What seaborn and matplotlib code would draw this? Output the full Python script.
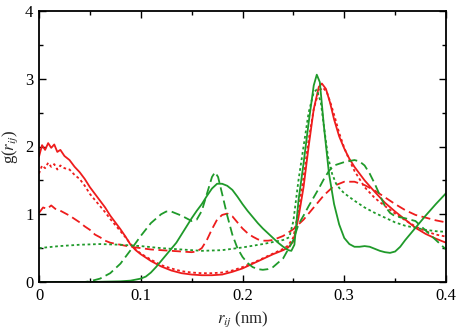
import numpy as np
import pandas as pd
import seaborn as sns
import matplotlib
matplotlib.use("Agg")
import matplotlib.pyplot as plt
from matplotlib.ticker import MultipleLocator

# ---- data ----
red_solid_x = [0.000, 0.003, 0.006, 0.009, 0.012, 0.015, 0.018, 0.021, 0.025, 0.030, 0.035, 0.040, 0.045,
               0.050, 0.055, 0.060, 0.065, 0.070, 0.075, 0.080, 0.085, 0.090, 0.095, 0.100, 0.110, 0.120,
               0.130, 0.140, 0.150, 0.160, 0.170, 0.180, 0.190, 0.200, 0.210, 0.220, 0.230, 0.240, 0.245,
               0.250, 0.255, 0.260, 0.265, 0.270, 0.275, 0.278, 0.282, 0.286, 0.290, 0.295, 0.300, 0.305,
               0.310, 0.320, 0.330, 0.340, 0.350, 0.360, 0.370, 0.380, 0.390, 0.400]
red_solid_y = [1.85, 2.02, 1.95, 2.05, 1.98, 2.03, 1.92, 1.95, 1.86, 1.80, 1.70, 1.62, 1.52,
               1.40, 1.30, 1.20, 1.10, 0.98, 0.88, 0.78, 0.67, 0.55, 0.47, 0.41, 0.31, 0.23,
               0.17, 0.13, 0.11, 0.10, 0.10, 0.11, 0.15, 0.20, 0.27, 0.34, 0.41, 0.47, 0.51,
               0.60, 0.95, 1.40, 2.00, 2.55, 2.88, 2.93, 2.85, 2.65, 2.40, 2.15, 1.97, 1.82,
               1.70, 1.50, 1.33, 1.17, 1.04, 0.92, 0.80, 0.71, 0.64, 0.58]

red_dot_x = [0.000, 0.003, 0.006, 0.009, 0.012, 0.015, 0.018, 0.021, 0.025, 0.030, 0.035, 0.040, 0.045,
             0.050, 0.055, 0.060, 0.065, 0.070, 0.075, 0.080, 0.085, 0.090, 0.095, 0.100, 0.110, 0.120,
             0.130, 0.140, 0.150, 0.160, 0.170, 0.180, 0.190, 0.200, 0.210, 0.220, 0.230, 0.240, 0.245,
             0.250, 0.255, 0.260, 0.265, 0.270, 0.275, 0.279, 0.283, 0.287, 0.291, 0.295, 0.300, 0.305,
             0.310, 0.320, 0.330, 0.340, 0.350, 0.360, 0.370, 0.380, 0.390, 0.400]
red_dot_y = [1.60, 1.72, 1.68, 1.76, 1.70, 1.74, 1.66, 1.72, 1.68, 1.66, 1.58, 1.52, 1.42,
             1.30, 1.21, 1.12, 1.03, 0.93, 0.84, 0.75, 0.66, 0.56, 0.48, 0.42, 0.33, 0.25,
             0.20, 0.16, 0.14, 0.13, 0.13, 0.14, 0.17, 0.22, 0.28, 0.35, 0.42, 0.49, 0.54,
             0.66, 1.05, 1.55, 2.10, 2.55, 2.82, 2.87, 2.80, 2.62, 2.42, 2.20, 1.98, 1.80,
             1.64, 1.40, 1.24, 1.12, 1.01, 0.91, 0.82, 0.75, 0.70, 0.67]

red_dash_x = [0.000, 0.004, 0.008, 0.012, 0.016, 0.020, 0.025, 0.030, 0.035, 0.040, 0.045, 0.050, 0.055,
              0.060, 0.065, 0.070, 0.080, 0.090, 0.100, 0.110, 0.120, 0.130, 0.140, 0.150, 0.155, 0.160,
              0.165, 0.170, 0.175, 0.180, 0.185, 0.190, 0.195, 0.200, 0.205, 0.210, 0.215, 0.220, 0.225,
              0.230, 0.240, 0.250, 0.260, 0.270, 0.280, 0.290, 0.300, 0.310, 0.320, 0.330, 0.340, 0.350,
              0.360, 0.370, 0.380, 0.390, 0.400]
red_dash_y = [1.02, 1.10, 1.08, 1.13, 1.08, 1.06, 1.02, 0.98, 0.93, 0.88, 0.82, 0.77, 0.70,
              0.66, 0.61, 0.58, 0.55, 0.52, 0.50, 0.48, 0.47, 0.46, 0.45, 0.44, 0.45, 0.50,
              0.62, 0.78, 0.92, 0.99, 1.01, 0.97, 0.88, 0.79, 0.72, 0.67, 0.63, 0.61, 0.61,
              0.62, 0.68, 0.78, 0.92, 1.10, 1.28, 1.42, 1.48, 1.48, 1.43, 1.35, 1.25, 1.15,
              1.06, 0.99, 0.95, 0.91, 0.88]

green_solid_x = [0.000, 0.050, 0.080, 0.090, 0.100, 0.105, 0.110, 0.115, 0.120, 0.125, 0.130, 0.135,
                 0.140, 0.145, 0.150, 0.155, 0.160, 0.165, 0.170, 0.175, 0.180, 0.185, 0.190, 0.195,
                 0.200, 0.205, 0.210, 0.215, 0.220, 0.225, 0.230, 0.235, 0.240, 0.245, 0.248, 0.251,
                 0.255, 0.260, 0.265, 0.270, 0.273, 0.276, 0.280, 0.285, 0.290, 0.295, 0.300, 0.305,
                 0.310, 0.315, 0.320, 0.325, 0.330, 0.335, 0.340, 0.345, 0.350, 0.355, 0.360, 0.370,
                 0.380, 0.390, 0.400]
green_solid_y = [0.00, 0.00, 0.01, 0.02, 0.05, 0.08, 0.14, 0.22, 0.31, 0.40, 0.49, 0.58,
                 0.70, 0.82, 0.94, 1.05, 1.15, 1.27, 1.38, 1.45, 1.45, 1.42, 1.36, 1.26,
                 1.15, 1.05, 0.96, 0.87, 0.79, 0.72, 0.65, 0.58, 0.52, 0.47, 0.46, 0.55,
                 1.20, 1.75, 2.35, 2.90, 3.06, 2.95, 2.30, 1.60, 1.15, 0.85, 0.65, 0.56,
                 0.52, 0.52, 0.53, 0.52, 0.49, 0.46, 0.44, 0.43, 0.45, 0.52, 0.62, 0.80,
                 0.98, 1.15, 1.31]

green_dot_x = [0.000, 0.020, 0.040, 0.060, 0.080, 0.100, 0.120, 0.140, 0.160, 0.180, 0.200, 0.220,
               0.240, 0.246, 0.250, 0.255, 0.260, 0.265, 0.270, 0.273, 0.277, 0.280, 0.284, 0.288,
               0.292, 0.296, 0.300, 0.310, 0.320, 0.330, 0.340, 0.350, 0.360, 0.370, 0.380, 0.390,
               0.400]
green_dot_y = [0.50, 0.53, 0.55, 0.56, 0.55, 0.53, 0.50, 0.48, 0.46, 0.47, 0.51, 0.56,
               0.62, 0.66, 0.90, 1.50, 2.00, 2.50, 2.80, 2.84, 2.65, 2.30, 1.85, 1.60,
               1.45, 1.37, 1.31, 1.20, 1.10, 1.02, 0.95, 0.88, 0.83, 0.80, 0.77, 0.75,
               0.74]

green_dash_x = [0.000, 0.045, 0.050, 0.060, 0.070, 0.080, 0.090, 0.100, 0.110, 0.120, 0.125, 0.130,
                0.140, 0.150, 0.155, 0.160, 0.165, 0.170, 0.173, 0.176, 0.180, 0.185, 0.190, 0.195,
                0.200, 0.205, 0.210, 0.215, 0.220, 0.225, 0.230, 0.240, 0.250, 0.255, 0.260, 0.265,
                0.270, 0.275, 0.280, 0.285, 0.290, 0.300, 0.310, 0.315, 0.320, 0.325, 0.330, 0.335,
                0.340, 0.345, 0.350, 0.360, 0.370, 0.380, 0.390, 0.400]
green_dash_y = [0.00, 0.00, 0.01, 0.05, 0.13, 0.27, 0.47, 0.68, 0.87, 1.00, 1.04, 1.04,
                0.98, 0.90, 0.92, 1.05, 1.30, 1.55, 1.62, 1.55, 1.30, 0.98, 0.70, 0.50,
                0.37, 0.28, 0.22, 0.19, 0.18, 0.19, 0.22, 0.35, 0.62, 0.85, 0.98, 1.12,
                1.25, 1.38, 1.52, 1.64, 1.72, 1.77, 1.80, 1.78, 1.72, 1.60, 1.45, 1.28,
                1.12, 1.02, 0.97, 0.94, 0.90, 0.76, 0.62, 0.48]

x_ticks = [0, 0.1, 0.2, 0.3, 0.4]
x_tick_labels = ["0", "0.1", "0.2", "0.3", "0.4"]
y_ticks = [0, 1, 2, 3, 4]
y_tick_labels = ["0", "1", "2", "3", "4"]

RED = "#ee1c1c"
GREEN = "#1f9a2a"

sns.set_style("ticks")
plt.rcParams["font.family"] = ["Liberation Serif", "DejaVu Serif"]
plt.rcParams["mathtext.fontset"] = "stix"

fig = plt.figure(figsize=(4.59, 3.36), dpi=100)
ax = fig.add_axes([39 / 459, 54 / 336, 407 / 459, 271 / 336])

series = [
    (red_solid_x, red_solid_y, RED, ""),
    (red_dot_x, red_dot_y, RED, (1.5, 1.5)),
    (red_dash_x, red_dash_y, RED, (5, 2.5)),
    (green_solid_x, green_solid_y, GREEN, ""),
    (green_dot_x, green_dot_y, GREEN, (1.5, 1.5)),
    (green_dash_x, green_dash_y, GREEN, (5, 2.5)),
]
for xs, ys, col, dash in series:
    df = pd.DataFrame({"r": xs, "g": ys})
    line = sns.lineplot(data=df, x="r", y="g", ax=ax, color=col, linewidth=1.3,
                        sort=False, estimator=None)
    if dash != "":
        ax.lines[-1].set_dashes(dash)

ax.set_xlim(0, 0.4)
ax.set_ylim(0, 4)
ax.set_xticks(x_ticks)
ax.set_xticklabels(x_tick_labels)
ax.set_yticks(y_ticks)
ax.set_yticklabels(y_tick_labels)
ax.xaxis.set_minor_locator(MultipleLocator(0.05))
ax.yaxis.set_minor_locator(MultipleLocator(0.5))
ax.tick_params(which="both", direction="in", top=True, right=True, labelsize=12, width=1.0,
               colors="black", pad=4)
ax.tick_params(which="major", length=5)
ax.tick_params(which="minor", length=3)
for s in ax.spines.values():
    s.set_linewidth(1.3)
    s.set_color("black")

ax.set_xlabel(r"$r_{ij}$ (nm)", fontsize=12, labelpad=4)
ax.set_ylabel(r"g($r_{ij}$)", fontsize=12, labelpad=4)

fig.savefig("out.png", dpi=100)
